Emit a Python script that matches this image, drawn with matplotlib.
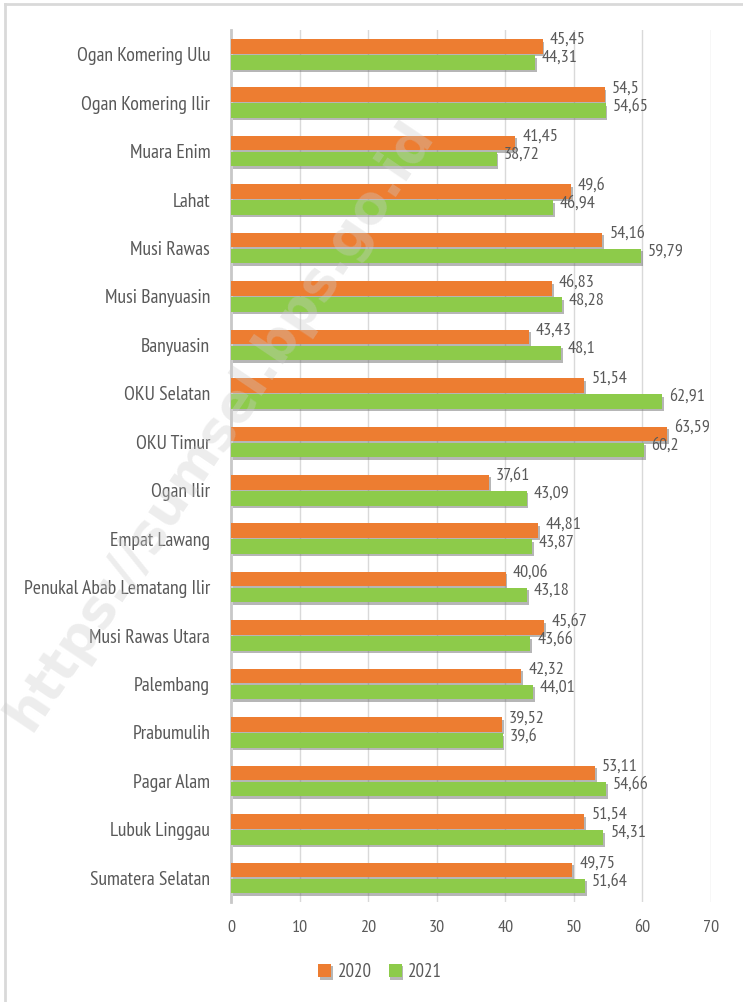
import matplotlib
matplotlib.use("Agg")
import matplotlib.pyplot as plt
import matplotlib.patheffects as pe
from matplotlib import font_manager
import numpy as np

categories = ["Ogan Komering Ulu", "Ogan Komering Ilir", "Muara Enim", "Lahat",
              "Musi Rawas", "Musi Banyuasin", "Banyuasin", "OKU Selatan", "OKU Timur",
              "Ogan Ilir", "Empat Lawang", "Penukal Abab Lematang Ilir",
              "Musi Rawas Utara", "Palembang", "Prabumulih", "Pagar Alam",
              "Lubuk Linggau", "Sumatera Selatan"]
values_2020 = [45.45, 54.5, 41.45, 49.6, 54.16, 46.83, 43.43, 51.54, 63.59, 37.61,
               44.81, 40.06, 45.67, 42.32, 39.52, 53.11, 51.54, 49.75]
values_2021 = [44.31, 54.65, 38.72, 46.94, 59.79, 48.28, 48.1, 62.91, 60.2, 43.09,
               43.87, 43.18, 43.66, 44.01, 39.6, 54.66, 54.31, 51.64]
series_names = ["2020", "2021"]
xticks = [0, 10, 20, 30, 40, 50, 60, 70]

names = {f.name for f in font_manager.fontManager.ttflist}
fam = "DejaVu Sans"
for cand in ["PT Sans Narrow", "Fira Sans Condensed", "Roboto Condensed", "Asap Condensed",
             "Archivo Narrow", "Liberation Sans Narrow"]:
    if cand in names:
        fam = cand
        break
plt.rcParams["font.family"] = [fam, "DejaVu Sans"]

C20 = "#ED7D31"
C21 = "#8DCB4A"
TXT = "#595959"

fig = plt.figure(figsize=(7.43, 10.02), dpi=100)
ax = fig.add_axes([0.311, 0.0998, 0.646, 0.8702])

y = np.arange(len(categories))
h = 0.30
shadow = [pe.SimplePatchShadow(offset=(1.2, -1.8), shadow_rgbFace="#7a7a7a", alpha=0.55), pe.Normal()]
b1 = ax.barh(y - 0.165, values_2020, height=h, color=C20, label=series_names[0], zorder=3)
b2 = ax.barh(y + 0.165, values_2021, height=h, color=C21, label=series_names[1], zorder=3)
for b in list(b1) + list(b2):
    b.set_path_effects(shadow)

def fmt(v):
    s = ("%.2f" % v).rstrip("0").rstrip(".")
    return s.replace(".", ",")

for yi, v in zip(y - 0.165, values_2020):
    ax.annotate(fmt(v), (v, yi), xytext=(5, 4.5), textcoords="offset points",
                ha="left", va="center", fontsize=13, color=TXT, zorder=5)
for yi, v in zip(y + 0.165, values_2021):
    ax.annotate(fmt(v), (v, yi), xytext=(5, 3), textcoords="offset points",
                ha="left", va="center", fontsize=13, color=TXT, zorder=5)

ax.set_xlim(0, 70)
ax.set_ylim(len(categories) - 0.5, -0.5)
ax.set_xticks(xticks)
ax.set_xticklabels([str(t) for t in xticks], fontsize=13, color=TXT)
ax.set_yticks(y)
ax.set_yticklabels(categories, fontsize=14.2, color=TXT)
ax.tick_params(axis="both", length=0)
ax.tick_params(axis="x", pad=13)
ax.tick_params(axis="y", pad=15)
ax.grid(axis="x", color="#d9d9d9", linewidth=1.0, zorder=0)
for s in ["top", "right", "bottom"]:
    ax.spines[s].set_visible(False)
ax.spines["left"].set_color("#c8c8c8")
ax.spines["left"].set_linewidth(2.0)

leg = fig.legend(handles=[b1, b2], labels=series_names, loc="center",
                 bbox_to_anchor=(380 / 743, 1 - 972 / 1002), ncol=2, frameon=False,
                 fontsize=13.5, handlelength=0.7, handleheight=0.7, handletextpad=0.35,
                 columnspacing=0.9)
for t in leg.get_texts():
    t.set_color(TXT)

# watermark
fig.text(220 / 743, 1 - 425 / 1002, "https://sumsel.bps.go.id", fontsize=38,
         fontweight="bold", family="DejaVu Sans", color="#cccccc", alpha=0.35,
         rotation=56, ha="center", va="center", zorder=10)

# border (left and top only)
fig.add_artist(plt.Line2D([5 / 743, 5 / 743], [0, 1 - 4 / 1002], transform=fig.transFigure,
                          color="#d9d9d9", linewidth=2.0))
fig.add_artist(plt.Line2D([5 / 743, 1], [1 - 4 / 1002, 1 - 4 / 1002], transform=fig.transFigure,
                          color="#d9d9d9", linewidth=2.0))

fig.savefig("out.png", dpi=100)
